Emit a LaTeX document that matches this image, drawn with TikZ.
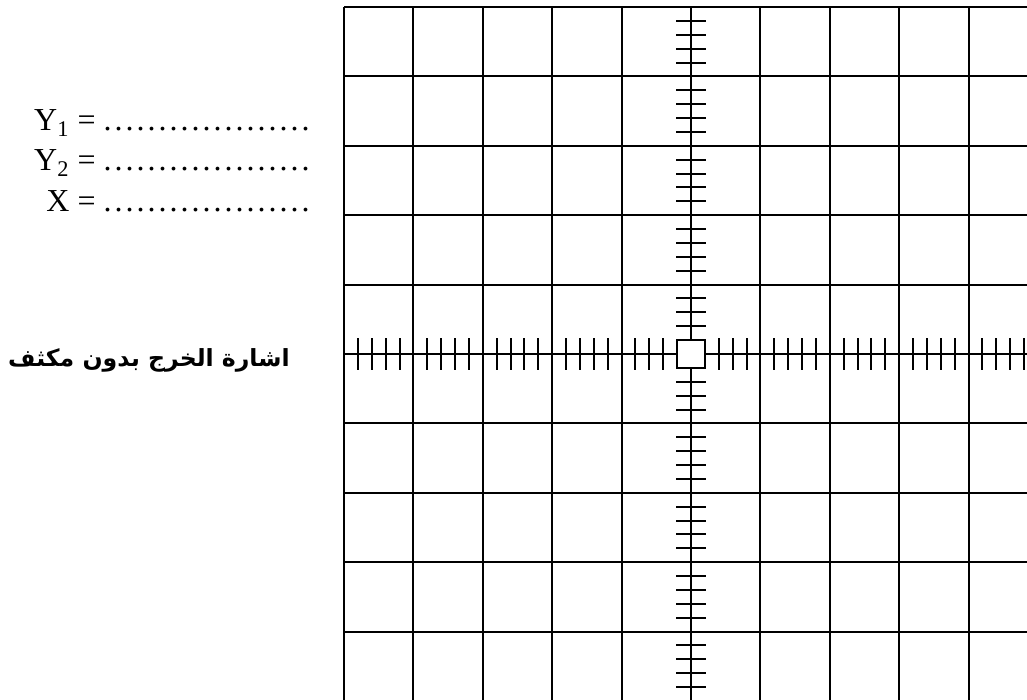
\documentclass[tikz,border=0pt]{standalone}
\usepackage{fontspec}
\setmainfont{Liberation Serif}
\newfontfamily\arabicfont[Script=Arabic]{DejaVu Sans}
\TeXXeTstate=1
\newcommand{\dotrow}{\foreach \d in {1,...,19}{.\kern 1.5pt}}

\begin{document}
\begin{tikzpicture}[
    x=0.5pt, y=-0.5pt,
    gridline/.style={line width=1pt, black},
    axistick/.style={line width=1pt, black},
    lbl/.style={anchor=base east, inner sep=0pt, font=\fontsize{16}{19}\selectfont},
]
\useasboundingbox (0,0) rectangle (1027,700);

\begin{scope}
\clip (0,0) rectangle (1027,700);
% Grid
\foreach \i in {0,...,10} {
  \draw[gridline] ({344+69.4*\i},7) -- ({344+69.4*\i},710);
  \draw[gridline] (344,{7+69.4*\i}) -- (1040,{7+69.4*\i});
}
% Axis ticks
\foreach \k in {-25,...,-2,2,3,...,25} {
  \draw[axistick] ({691+13.88*\k},338) -- ({691+13.88*\k},370);
  \draw[axistick] (676,{354+13.88*\k}) -- (706,{354+13.88*\k});
}
\end{scope}

% Centre box
\node[draw, line width=1pt, fill=white, minimum size=14pt, inner sep=0pt] (centre) at (691,354) {};

% Readings
\node[lbl] (y1lbl) at (313,131) {Y\textsubscript{1} = \dotrow};
\node[lbl] (y2lbl) at (313,171) {Y\textsubscript{2} = \dotrow};
\node[lbl] (xlbl) at (313,212) {X = \dotrow};

% Caption
\node[anchor=east, inner sep=0pt, font=\arabicfont\bfseries\fontsize{11.8}{14}\selectfont] (caption) at (290,360) {\beginR اشارة الخرج بدون مكثف\endR};

\end{tikzpicture}
\end{document}
